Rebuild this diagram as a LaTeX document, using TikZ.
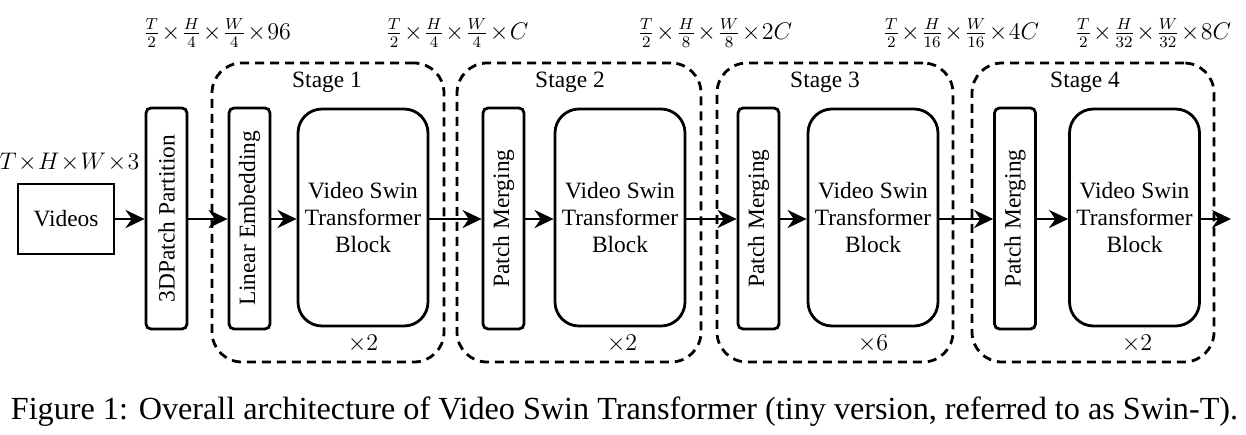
\documentclass[tikz,border=0pt]{standalone}
\usepackage[no-math]{fontspec}
\setmainfont{Liberation Serif}
\usetikzlibrary{arrows.meta}
\begin{document}
\begin{tikzpicture}[x=0.5pt,y=-0.5pt,
  every node/.style={font=\fontsize{11.7}{13.5}\selectfont, inner sep=0pt},
  blk/.style={draw, line width=1.4pt},
  thin/.style={blk, rounded corners=2.5pt, rotate=90, minimum width=110.5pt, minimum height=20.5pt},
  vst/.style={blk, rounded corners=12pt, minimum width=65pt, minimum height=108.5pt, align=center},
  stagebox/.style={draw, line width=1.4pt, dash pattern=on 4.5pt off 3pt, rounded corners=15pt},
  arr/.style={line width=1.4pt, -{Stealth[length=9.5pt,width=9pt]}},
  captxt/.style={font=\fontsize{16.1}{19}\selectfont}]
\useasboundingbox (0,0) rectangle (1246,434);
% stage boxes
\node[stagebox, minimum width=116pt, minimum height=149.5pt] (s1) at (328,212.5) {};
\node[stagebox, minimum width=122pt, minimum height=149.5pt] (s2) at (579,212.5) {};
\node[stagebox, minimum width=118pt, minimum height=149.5pt] (s3) at (835,212.5) {};
\node[stagebox, minimum width=121pt, minimum height=149.5pt] (s4) at (1093,212.5) {};
% blocks
\node[blk, minimum width=48pt, minimum height=35pt] (vid) at (66,219) {Videos};
\node[thin] (pp) at (166.5,218.5) {3DPatch Partition};
\node[thin] (le) at (249.5,218.5) {Linear Embedding};
\node[vst] (b1) at (363,217.5) {Video Swin\\Transformer\\Block};
\node[thin] (pm2) at (503.5,218.5) {Patch Merging};
\node[vst] (b2) at (620,217.5) {Video Swin\\Transformer\\Block};
\node[thin] (pm3) at (758.5,218.5) {Patch Merging};
\node[vst] (b3) at (873,217.5) {Video Swin\\Transformer\\Block};
\node[thin] (pm4) at (1015,218.5) {Patch Merging};
\node[vst] (b4) at (1134.5,217.5) {Video Swin\\Transformer\\Block};
\coordinate (out) at (1231,219);
% arrows (rotated boxes: north = left side, south = right side)
\draw[arr] (vid) -- (vid -| pp.north);
\draw[arr] (pp.south |- vid) -- (vid -| le.north);
\draw[arr] (le.south |- vid) -- (vid -| b1.west);
\draw[arr] (b1.east |- vid) -- (vid -| pm2.north);
\draw[arr] (pm2.south |- vid) -- (vid -| b2.west);
\draw[arr] (b2.east |- vid) -- (vid -| pm3.north);
\draw[arr] (pm3.south |- vid) -- (vid -| b3.west);
\draw[arr] (b3.east |- vid) -- (vid -| pm4.north);
\draw[arr] (pm4.south |- vid) -- (vid -| b4.west);
\draw[arr] (b4.east |- vid) -- (out);
% stage labels
\node (t1) at (327,82) {Stage 1};
\node (t2) at (570,82) {Stage 2};
\node (t3) at (825,82) {Stage 3};
\node (t4) at (1085,82) {Stage 4};
\node (r1) at (363,344) {$\times2$};
\node (r2) at (622,344) {$\times2$};
\node (r3) at (873,344) {$\times6$};
\node (r4) at (1137,344) {$\times2$};
% dimension labels
\node (d0) at (69.5,162) {$T\!\times\! H\!\times\! W\!\times\!3$};
\node (d1) at (217,33) {$\frac{T}{2}\!\times\!\frac{H}{4}\!\times\!\frac{W}{4}\!\times\!96$};
\node (d2) at (457,33) {$\frac{T}{2}\!\times\!\frac{H}{4}\!\times\!\frac{W}{4}\!\times\!C$};
\node (d3) at (715,33) {$\frac{T}{2}\!\times\!\frac{H}{8}\!\times\!\frac{W}{8}\!\times\!2C$};
\node (d4) at (961,33) {$\frac{T}{2}\!\times\!\frac{H}{16}\!\times\!\frac{W}{16}\!\times\!4C$};
\node (d5) at (1153,33) {$\frac{T}{2}\!\times\!\frac{H}{32}\!\times\!\frac{W}{32}\!\times\!8C$};
% caption
\node[captxt] (cap) at (624.5,412) {Figure 1: Overall architecture of Video Swin Transformer (tiny version, referred to as Swin-T).};
\end{tikzpicture}
\end{document}
